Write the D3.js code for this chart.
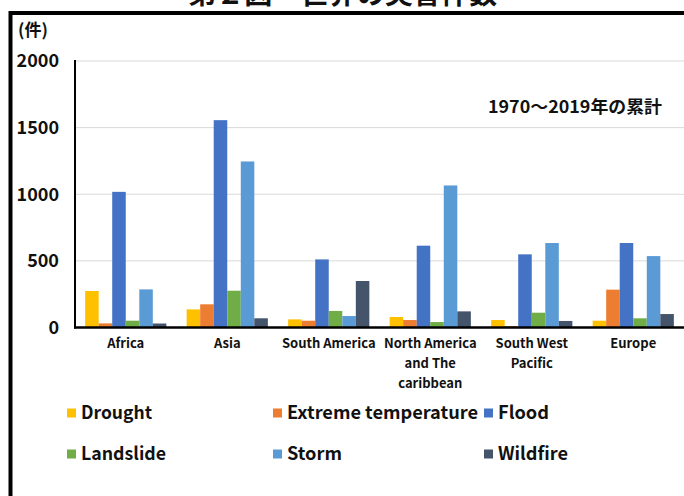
<!DOCTYPE html>
<html>
<head>
<meta charset="utf-8">
<script src="https://cdn.jsdelivr.net/npm/d3@7"></script>
<style>
  html, body { margin: 0; padding: 0; background: #fff; }
  svg { display: block; }
  text { font-family: "Noto Sans CJK JP", "Noto Sans", sans-serif; font-weight: 700; fill: #111; }
</style>
</head>
<body>
<svg id="chart" width="684" height="496"></svg>
<script>
// Regions (category axis)
const regions = ["Africa", "Asia", "South America", "North America and The caribbean", "South West Pacific", "Europe"];
// Region labels as wrapped lines
const regionLines = [["Africa"], ["Asia"], ["South America"], ["North America", "and The", "caribbean"], ["South West", "Pacific"], ["Europe"]];

// Disaster types (series)
const hazards = ["Drought", "Extreme temperature", "Flood", "Landslide", "Storm", "Wildfire"];
const hazardColors = ["#FFC000", "#ED7D31", "#4472C4", "#70AD47", "#5B9BD5", "#44546A"];

// Counts per region, 1970-2019 cumulative, one array per hazard (ordered like regions)
const drought     = [274, 136,  61,   79,  56,  51];
const extremeTemp = [ 31, 174,  51,   56,  10, 284];
const flood       = [1018, 1556, 511, 614, 549, 634];
const landslide   = [ 51, 276, 124,   41, 111,  69];
const storm       = [286, 1246,  86, 1066, 634, 536];
const wildfire    = [ 30,  69, 349,  121,  49, 101];
const seriesValues = [drought, extremeTemp, flood, landslide, storm, wildfire];

// Y-axis ticks
const yTicks = [0, 500, 1000, 1500, 2000];

const svg = d3.select("#chart");

// Figure title (runs off the top edge) and frame
svg.append("text")
  .attr("x", 188).attr("y", 4)
  .attr("font-size", 28)
  .attr("textLength", 309).attr("lengthAdjust", "spacingAndGlyphs")
  .text("第２図　世界の災害件数");

svg.append("rect")
  .attr("x", 10.5).attr("y", 13)
  .attr("width", 700).attr("height", 520)
  .attr("fill", "none").attr("stroke", "#000").attr("stroke-width", 4);

// Scales
const x0 = d3.scaleBand().domain(regions).range([75, 684]).paddingInner(0.2).paddingOuter(0.1);
const x1 = d3.scaleBand().domain(hazards).range([0, x0.bandwidth()]);
const y = d3.scaleLinear().domain([0, 2000]).range([327.5, 61]);
const color = d3.scaleOrdinal().domain(hazards).range(hazardColors);

// Gridlines
svg.append("g").selectAll("line").data(yTicks.filter(t => t > 0)).join("line")
  .attr("x1", 76).attr("x2", 684)
  .attr("y1", d => y(d)).attr("y2", d => y(d))
  .attr("stroke", "#d9d9d9").attr("stroke-width", 1);

// Y tick labels
svg.append("g").selectAll("text").data(yTicks).join("text")
  .attr("x", 59).attr("y", d => y(d))
  .attr("dy", "0.35em")
  .attr("text-anchor", "end")
  .attr("font-size", 18)
  .text(d => d);

// Unit label
svg.append("text")
  .attr("x", 18).attr("y", 36)
  .attr("font-size", 17)
  .text("(件)");

// Bars
const groups = svg.append("g").selectAll("g").data(regions).join("g")
  .attr("transform", d => `translate(${x0(d)},0)`);

groups.selectAll("rect")
  .data((r, ri) => hazards.map((h, hi) => ({ hazard: h, value: seriesValues[hi][ri] })))
  .join("rect")
  .attr("x", d => x1(d.hazard))
  .attr("width", x1.bandwidth())
  .attr("y", d => y(d.value))
  .attr("height", d => y(0) - y(d.value))
  .attr("fill", d => color(d.hazard));

// Axis lines
svg.append("line").attr("x1", 75).attr("x2", 75).attr("y1", 60).attr("y2", 328.5)
  .attr("stroke", "#000").attr("stroke-width", 2);
svg.append("line").attr("x1", 74).attr("x2", 684).attr("y1", 327.5).attr("y2", 327.5)
  .attr("stroke", "#000").attr("stroke-width", 2.5);

// Category labels
const labels = svg.append("g").selectAll("text").data(regions).join("text")
  .attr("text-anchor", "middle")
  .attr("font-size", 13)
  .attr("transform", d => `translate(${x0(d) + x0.bandwidth() / 2},0)`);
labels.each(function(d, i) {
  d3.select(this).selectAll("tspan").data(regionLines[i]).join("tspan")
    .attr("x", 0)
    .attr("y", (l, j) => 348 + j * 20)
    .text(l => l);
});

// Period note
svg.append("text")
  .attr("x", 488).attr("y", 113)
  .attr("font-size", 17)
  .attr("textLength", 174).attr("lengthAdjust", "spacingAndGlyphs")
  .text("1970〜2019年の累計");

// Legend
const legendPos = [
  { x: 67, y: 413, w: 71 }, { x: 273, y: 413, w: 191 }, { x: 484, y: 413, w: 51 },
  { x: 67, y: 454, w: 85 }, { x: 273, y: 454, w: 55 }, { x: 484, y: 454, w: 70 }
];
const legend = svg.append("g").selectAll("g").data(hazards).join("g")
  .attr("transform", (d, i) => `translate(${legendPos[i].x},${legendPos[i].y})`);
legend.append("rect")
  .attr("x", 0).attr("y", -4.5).attr("width", 9).attr("height", 9)
  .attr("fill", d => color(d));
legend.append("text")
  .attr("x", 14).attr("y", 0).attr("dy", "0.36em")
  .attr("font-size", 18)
  .attr("textLength", (d, i) => legendPos[i].w).attr("lengthAdjust", "spacingAndGlyphs")
  .text(d => d);
</script>
</body>
</html>
